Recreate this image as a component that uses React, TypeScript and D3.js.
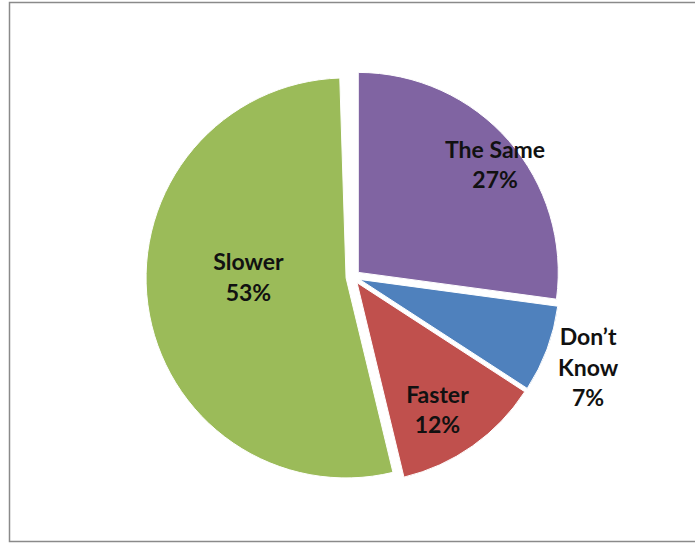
import React from "react";
import * as d3 from "d3";

const categories = ["The Same", "Don't Know", "Faster", "Slower"];
const labelLines = [["The Same", "27%"], ["Don\u2019t", "Know", "7%"], ["Faster", "12%"], ["Slower", "53%"]];
const values = [27, 7, 12, 53];
const colors = ["#8064A2", "#4F81BD", "#C0504D", "#9BBB59"];

// layout (not data)
const W = 695;
const H = 546;
const CX = 353;
const CY = 277;
const R = 200;
const EXPLODE = 7;
const labelRadius = [0.87, 1.225, 0.753, 0.488];
const labelAngleShift = [3.0, 0.8, 3, 8.0];
const LINE_H = 30.5;
const FONT = 23;

export default function App() {
  const pie = d3
    .pie<number>()
    .sort(null)
    .value((d) => d)
    .endAngle(2 * Math.PI * 0.995);
  const arcs = pie(values);
  const arc = d3.arc<d3.PieArcDatum<number>>().innerRadius(0).outerRadius(R);

  return (
    <svg
      width={W}
      height={H}
      style={{ position: "absolute", left: 0, top: 0, background: "#fff" }}
    >
      <rect x={9.5} y={2.5} width={W + 10} height={539} fill="#ffffff" stroke="#8a8a8a" strokeWidth={1.5} />
      {arcs.map((a, i) => {
        const mid = (a.startAngle + a.endAngle) / 2;
        const ox = Math.sin(mid) * EXPLODE;
        const oy = -Math.cos(mid) * EXPLODE;
        return (
          <path
            key={categories[i]}
            d={arc(a) || ""}
            transform={`translate(${CX + ox},${CY + oy})`}
            fill={colors[i]}
            stroke="#ffffff"
            strokeWidth={1}
          />
        );
      })}
      {arcs.map((a, i) => {
        const mid = (a.startAngle + a.endAngle) / 2;
        const ox = Math.sin(mid) * EXPLODE;
        const oy = -Math.cos(mid) * EXPLODE;
        const la = mid + (labelAngleShift[i] * Math.PI) / 180;
        const lr = labelRadius[i] * R;
        const lx = CX + ox + Math.sin(la) * lr;
        const ly = CY + oy - Math.cos(la) * lr;
        const lines = labelLines[i];
        const n = lines.length;
        return (
          <text
            key={"l" + i}
            textAnchor="middle"
            fontFamily="Lato, 'Open Sans', sans-serif"
            fontWeight="bold"
            fontSize={FONT}
            fill="#111"
          >
            {lines.map((t, j) => (
              <tspan key={j} x={lx} y={ly + (j - (n - 1) / 2) * LINE_H + 8}>
                {t}
              </tspan>
            ))}
          </text>
        );
      })}
    </svg>
  );
}
